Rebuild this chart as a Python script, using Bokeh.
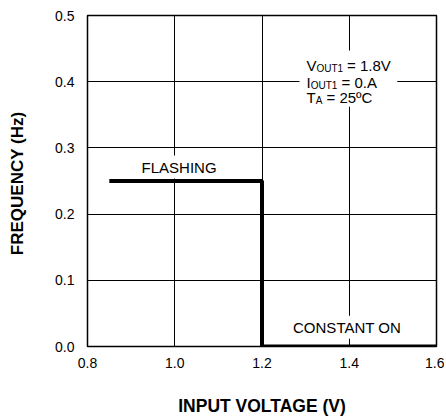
from bokeh.plotting import figure
from bokeh.models import Label, BoxAnnotation, FixedTicker, CustomJSTickFormatter
from bokeh.embed import file_html
from bokeh.resources import INLINE

# data
input_voltage = [0.85, 1.2, 1.2, 1.6]
frequency = [0.25, 0.25, 0.0, 0.0]
x_ticks = [0.8, 1.0, 1.2, 1.4, 1.6]
y_ticks = [0.0, 0.1, 0.2, 0.3, 0.4, 0.5]

FONT = "Liberation Sans"

p = figure(width=444, height=418, x_range=(0.8, 1.6), y_range=(0.0, 0.5),
           output_backend="svg", toolbar_location=None,
           min_border_left=87, min_border_right=8, min_border_top=15, min_border_bottom=72)

p.outline_line_color = "black"
p.outline_line_width = 1.5
p.background_fill_color = "white"
p.border_fill_color = "white"

for ax in (p.xaxis[0], p.yaxis[0]):
    ax.axis_line_color = None
    ax.major_tick_line_color = None
    ax.minor_tick_line_color = None
    ax.major_tick_out = 0
    ax.major_tick_in = 0
    ax.minor_tick_out = 0
    ax.minor_tick_in = 0
    ax.major_label_text_font = FONT
    ax.major_label_text_font_size = "14px"
    ax.major_label_text_color = "black"
    ax.axis_label_text_font = FONT
    ax.axis_label_text_font_style = "bold"
    ax.axis_label_text_font_size = "17px"
    ax.axis_label_text_color = "black"
p.xaxis.axis_label_text_font_size = "17.5px"

p.xaxis.ticker = FixedTicker(ticks=x_ticks)
p.yaxis.ticker = FixedTicker(ticks=y_ticks)
p.xaxis.formatter = CustomJSTickFormatter(code="return tick.toFixed(1);")
p.yaxis.formatter = CustomJSTickFormatter(code="return tick.toFixed(1);")
p.xaxis.axis_label = "INPUT VOLTAGE (V)"
p.yaxis.axis_label = "FREQUENCY  (Hz)"
p.xaxis.major_label_standoff = 11
p.xaxis.axis_label_standoff = 25
p.yaxis.major_label_standoff = 13
p.yaxis.axis_label_standoff = 25

p.xgrid.ticker = FixedTicker(ticks=x_ticks)
p.ygrid.ticker = FixedTicker(ticks=y_ticks)
for g in (p.xgrid[0], p.ygrid[0]):
    g.grid_line_color = "black"
    g.grid_line_width = 1

# white box behind condition text
p.add_layout(BoxAnnotation(left=1.286, right=1.51, top=0.447, bottom=0.362,
                           fill_color="white", fill_alpha=1.0, line_color=None, level="annotation"))

p.line(input_voltage, frequency, line_color="black", line_width=4)

def lab(x, y, text, size, xo=0, yo=0, bg=None, align="left", baseline="alphabetic"):
    l = Label(x=x, y=y, text=text, x_offset=xo, y_offset=yo,
              text_font=FONT, text_font_size=size, text_color="black",
              text_align=align, text_baseline=baseline)
    if bg:
        l.background_fill_color = bg
        l.padding = 3
    p.add_layout(l)

# condition text lines (baselines)
x0 = 1.302
main, sub = "15px", "10px"
lab(x0, 0.4245, "V", main)
lab(x0, 0.4245, "OUT1", sub, xo=10, yo=-3)
lab(x0, 0.4245, "= 1.8V", main, xo=40.5)
lab(x0, 0.3988, "I", main)
lab(x0, 0.3988, "OUT1", sub, xo=4.2, yo=-3)
lab(x0, 0.3988, "= 0.A", main, xo=35)
lab(x0, 0.3761, "T", main)
lab(x0, 0.3761, "A", sub, xo=9.2, yo=-3)
lab(x0, 0.3761, "= 25ºC", main, xo=20)

lab(1.01, 0.271, "FLASHING", "15px", bg="white", align="center", baseline="middle")
lab(1.395, 0.029, "CONSTANT ON", "15px", bg="white", align="center", baseline="middle")

open("out.html", "w").write(file_html(p, INLINE))
